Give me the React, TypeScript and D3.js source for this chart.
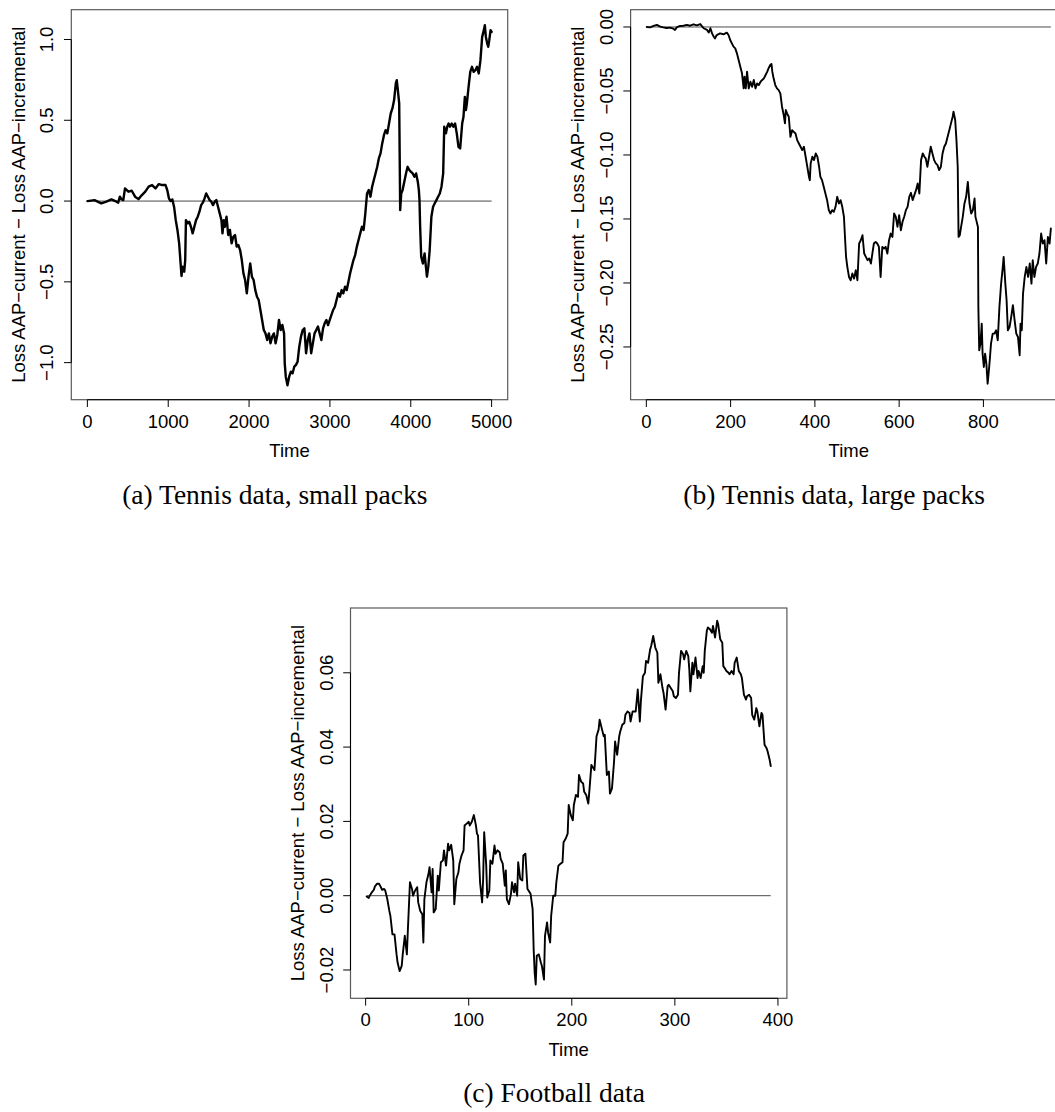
import React from "react";
import * as d3 from "d3";

// (a) Tennis data, small packs
const A_TIME = [1,88,172,235,297,360,381,402,423,444,465,507,549,590,632,674,716,758,800,842,884,925,967,988,1009,1030,1051,1072,1093,1114,1135,1156,1164,1177,1198,1210,1219,1240,1260,1281,1302,1323,1344,1365,1386,1407,1428,1449,1470,1491,1512,1533,1554,1575,1595,1616,1637,1658,1671,1688,1700,1721,1742,1763,1784,1805,1826,1847,1868,1889,1910,1930,1951,1972,1993,2014,2035,2056,2077,2098,2119,2140,2161,2182,2203,2224,2245,2265,2286,2307,2328,2349,2370,2391,2412,2433,2441,2454,2475,2496,2517,2538,2559,2580,2600,2621,2642,2663,2684,2705,2726,2747,2768,2789,2810,2831,2852,2873,2894,2915,2935,2956,2977,2998,3019,3040,3061,3082,3103,3124,3145,3166,3187,3208,3229,3250,3270,3291,3312,3333,3354,3375,3396,3417,3438,3459,3480,3501,3522,3543,3564,3585,3605,3626,3647,3668,3689,3710,3731,3752,3773,3794,3815,3827,3840,3857,3869,3882,3899,3920,3941,3961,3982,4003,4024,4045,4066,4087,4100,4108,4116,4129,4150,4171,4183,4200,4217,4234,4255,4276,4297,4317,4338,4359,4380,4401,4414,4435,4451,4468,4485,4506,4527,4548,4569,4590,4611,4623,4636,4652,4669,4682,4694,4715,4736,4757,4778,4799,4820,4841,4862,4883,4904,4916,4929,4946,4958,4971,4987,5000];
const A_LOSS = [0.000,0.006,-0.014,-0.004,0.010,-0.004,-0.010,0.027,0.010,0.006,0.078,0.058,0.064,0.027,0.012,0.037,0.058,0.089,0.099,0.078,0.105,0.099,0.099,0.068,0.016,0.000,0.010,-0.035,-0.118,-0.179,-0.262,-0.406,-0.464,-0.406,-0.437,-0.365,-0.118,-0.138,-0.128,-0.159,-0.200,-0.159,-0.118,-0.097,-0.066,-0.025,-0.010,0.016,0.047,0.027,0.006,-0.004,-0.025,-0.004,0.006,-0.035,-0.076,-0.118,-0.200,-0.118,-0.159,-0.097,-0.210,-0.179,-0.262,-0.221,-0.210,-0.282,-0.272,-0.303,-0.365,-0.447,-0.489,-0.571,-0.468,-0.386,-0.468,-0.489,-0.551,-0.592,-0.612,-0.674,-0.736,-0.798,-0.819,-0.860,-0.819,-0.880,-0.839,-0.819,-0.880,-0.829,-0.736,-0.798,-0.767,-0.819,-1.004,-1.087,-1.140,-1.087,-1.056,-1.066,-1.025,-1.014,-0.994,-0.901,-0.839,-0.798,-0.788,-0.942,-0.860,-0.819,-0.942,-0.880,-0.819,-0.798,-0.777,-0.819,-0.860,-0.788,-0.757,-0.736,-0.767,-0.736,-0.705,-0.674,-0.654,-0.612,-0.571,-0.592,-0.551,-0.571,-0.530,-0.551,-0.499,-0.447,-0.406,-0.365,-0.334,-0.282,-0.241,-0.200,-0.159,-0.179,-0.076,0.047,0.068,0.027,0.089,0.130,0.171,0.212,0.264,0.295,0.357,0.408,0.439,0.419,0.480,0.542,0.573,0.625,0.728,0.748,0.687,0.604,-0.056,0.047,0.068,0.120,0.171,0.212,0.192,0.181,0.171,0.151,0.171,0.120,0.068,0.006,-0.159,-0.344,-0.386,-0.324,-0.386,-0.468,-0.406,-0.303,-0.097,-0.035,-0.014,0.006,0.027,0.047,0.089,0.171,0.460,0.419,0.460,0.480,0.460,0.480,0.460,0.480,0.419,0.336,0.326,0.398,0.480,0.522,0.645,0.563,0.604,0.707,0.800,0.831,0.800,0.810,0.831,0.790,0.872,1.016,1.058,1.089,1.016,0.975,0.955,0.996,1.058,1.047];
const A_X_LIM = [-199, 5199];
const A_Y_LIM = [-1.2294, 1.1844];
const A_X_TICKS = [0, 1000, 2000, 3000, 4000, 5000];
const A_Y_TICKS = [-1.0, -0.5, 0.0, 0.5, 1.0];

// (b) Tennis data, large packs
const B_TIME = [1,9,17,25,33,40,48,56,64,68,72,80,88,96,104,112,120,128,136,144,148,152,156,160,163,167,175,183,191,195,199,203,207,211,215,219,223,227,231,233,236,239,243,247,251,255,259,263,267,271,275,279,283,287,290,294,297,299,302,306,310,314,318,322,326,329,331,334,338,342,346,350,354,358,362,366,370,374,378,382,386,388,390,394,398,402,406,410,413,417,421,425,429,433,437,441,445,449,453,457,461,465,469,471,474,477,481,485,489,493,497,501,505,509,513,517,521,525,529,533,537,540,544,548,552,556,560,564,568,572,576,580,584,588,592,596,600,604,608,612,616,620,624,628,632,636,640,644,648,652,656,660,663,667,671,675,679,683,687,691,695,699,703,707,711,715,719,723,727,729,733,736,739,741,744,747,751,755,759,763,767,771,775,779,781,783,787,788,790,793,796,798,801,804,807,810,813,815,818,822,826,830,834,838,842,846,848,852,855,858,862,866,870,874,878,882,886,888,891,894,898,902,906,910,914,917,921,925,929,933,937,941,945,949,953,957,960];
const B_LOSS = [0,-0.0003,0.0008,0.0016,0.0003,-0.0003,-0.0008,-0.0005,-0.0013,-0.0023,-0.0003,0.0008,0.0010,0.0016,0.0010,0.0021,0.0013,0.0023,-0.0010,-0.0023,-0.0044,-0.0010,-0.0050,-0.0076,-0.0089,-0.0063,-0.0050,-0.0057,-0.0044,-0.0063,-0.0102,-0.0128,-0.0154,-0.0167,-0.0206,-0.0258,-0.0310,-0.0362,-0.0480,-0.0388,-0.0480,-0.0349,-0.0480,-0.0428,-0.0467,-0.0414,-0.0480,-0.0441,-0.0454,-0.0428,-0.0414,-0.0401,-0.0375,-0.0349,-0.0323,-0.0297,-0.0289,-0.0349,-0.0401,-0.0454,-0.0480,-0.0493,-0.0519,-0.0623,-0.0688,-0.0753,-0.0649,-0.0675,-0.0701,-0.0858,-0.0806,-0.0819,-0.0832,-0.0884,-0.0910,-0.0936,-0.0962,-0.0936,-0.1014,-0.1092,-0.1170,-0.1197,-0.1066,-0.1014,-0.1040,-0.0988,-0.1014,-0.1092,-0.1170,-0.1197,-0.1249,-0.1301,-0.1353,-0.1431,-0.1457,-0.1431,-0.1444,-0.1405,-0.1327,-0.1379,-0.1353,-0.1405,-0.1483,-0.1614,-0.1796,-0.1874,-0.1953,-0.1979,-0.1926,-0.1966,-0.1900,-0.1979,-0.1692,-0.1666,-0.1627,-0.1770,-0.1796,-0.1822,-0.1809,-0.1848,-0.1757,-0.1692,-0.1679,-0.1692,-0.1718,-0.1953,-0.1718,-0.1731,-0.1718,-0.1770,-0.1666,-0.1614,-0.1640,-0.1457,-0.1483,-0.1562,-0.1470,-0.1588,-0.1522,-0.1483,-0.1431,-0.1405,-0.1327,-0.1296,-0.1353,-0.1314,-0.1275,-0.1223,-0.1301,-0.1040,-0.0988,-0.1014,-0.1027,-0.1092,-0.1014,-0.0936,-0.0988,-0.1040,-0.1066,-0.1079,-0.1118,-0.1092,-0.0988,-0.0936,-0.0910,-0.0858,-0.0806,-0.0753,-0.0701,-0.0662,-0.0727,-0.0884,-0.1092,-0.1640,-0.1627,-0.1562,-0.1483,-0.1379,-0.1327,-0.1210,-0.1379,-0.1457,-0.1431,-0.1340,-0.1483,-0.1509,-0.1562,-0.2187,-0.2526,-0.2474,-0.2318,-0.2552,-0.2656,-0.2552,-0.2630,-0.2787,-0.2682,-0.2604,-0.2474,-0.2396,-0.2396,-0.2370,-0.2448,-0.2187,-0.2005,-0.1874,-0.1796,-0.2005,-0.2135,-0.2370,-0.2344,-0.2265,-0.2174,-0.2291,-0.2396,-0.2422,-0.2565,-0.2318,-0.2370,-0.2083,-0.1953,-0.1874,-0.1953,-0.1848,-0.2005,-0.1822,-0.1953,-0.1874,-0.1848,-0.1770,-0.1614,-0.1692,-0.1666,-0.1848,-0.1640,-0.1692,-0.1575];
const B_X_LIM = [-37.36, 998.36];
const B_Y_LIM = [-0.2912, 0.0135];
const B_X_TICKS = [0, 200, 400, 600, 800];
const B_Y_TICKS = [-0.25, -0.2, -0.15, -0.1, -0.05, 0];

// (c) Football data
const C_TIME = [1,3,4,6,8,9,11,13,14,16,18,19,21,23,24,26,28,30,31,33,35,36,38,40,41,43,45,46,48,50,51,53,55,56,57,59,61,62,64,65,66,68,70,71,73,75,76,78,80,81,83,85,86,88,90,91,93,95,96,98,100,101,103,105,107,108,109,111,113,114,115,117,118,120,121,123,125,126,128,130,131,133,135,136,137,139,141,142,144,145,147,148,150,152,153,155,157,158,160,162,163,164,165,166,168,170,171,173,174,176,177,179,180,182,184,185,187,189,191,192,194,196,197,199,201,202,204,206,207,209,211,212,214,216,217,219,221,222,224,226,227,229,231,232,234,236,237,239,241,242,244,246,247,249,251,252,254,256,257,259,261,262,264,266,267,269,271,272,274,276,277,279,281,283,284,286,288,289,291,293,294,296,298,299,301,303,304,306,308,309,311,313,314,315,317,318,320,322,323,325,327,328,329,331,332,334,336,337,339,341,342,344,346,347,348,350,352,353,355,357,358,360,362,364,365,367,369,370,372,374,375,377,379,380,382,384,385,387,389,390,392,393];
const C_LOSS = [-0.0002,-0.0006,0.0000,0.0009,0.0016,0.0025,0.0032,0.0032,0.0027,0.0016,0.0018,0.0014,-0.0009,-0.0041,-0.0054,-0.0104,-0.0104,-0.0158,-0.0180,-0.0203,-0.0189,-0.0158,-0.0108,-0.0158,-0.0090,0.0036,0.0018,0.0000,0.0014,0.0023,-0.0018,-0.0041,-0.0050,-0.0126,-0.0009,0.0036,0.0059,0.0077,0.0009,0.0072,-0.0045,-0.0036,0.0054,0.0014,0.0090,0.0095,0.0122,0.0081,0.0140,0.0122,0.0137,0.0095,-0.0023,0.0045,0.0063,0.0086,0.0108,0.0122,0.0189,0.0194,0.0199,0.0189,0.0199,0.0217,0.0189,0.0167,0.0162,0.0036,-0.0018,0.0045,0.0171,0.0081,-0.0005,0.0014,0.0095,0.0086,0.0135,0.0113,0.0122,0.0117,0.0099,0.0086,0.0027,0.0068,-0.0009,-0.0023,0.0005,0.0036,0.0009,0.0032,0.0000,0.0090,0.0045,0.0041,0.0108,0.0113,0.0018,0.0014,0.0005,-0.0036,-0.0144,-0.0208,-0.0239,-0.0162,-0.0158,-0.0180,-0.0189,-0.0226,-0.0108,-0.0072,-0.0099,-0.0126,-0.0054,0.0000,0.0000,0.0036,0.0081,0.0086,0.0090,0.0144,0.0153,0.0167,0.0244,0.0217,0.0203,0.0244,0.0271,0.0266,0.0325,0.0307,0.0302,0.0280,0.0271,0.0248,0.0280,0.0352,0.0343,0.0338,0.0429,0.0447,0.0474,0.0451,0.0429,0.0433,0.0325,0.0334,0.0275,0.0289,0.0361,0.0415,0.0379,0.0429,0.0442,0.0460,0.0465,0.0487,0.0496,0.0492,0.0469,0.0496,0.0496,0.0496,0.0555,0.0469,0.0523,0.0591,0.0600,0.0632,0.0627,0.0663,0.0672,0.0699,0.0668,0.0654,0.0573,0.0596,0.0559,0.0546,0.0501,0.0564,0.0568,0.0559,0.0550,0.0537,0.0532,0.0541,0.0600,0.0659,0.0650,0.0636,0.0659,0.0645,0.0609,0.0550,0.0627,0.0596,0.0641,0.0586,0.0605,0.0586,0.0618,0.0600,0.0659,0.0713,0.0722,0.0717,0.0708,0.0726,0.0695,0.0740,0.0731,0.0690,0.0681,0.0618,0.0614,0.0605,0.0600,0.0596,0.0605,0.0596,0.0627,0.0641,0.0605,0.0596,0.0586,0.0541,0.0528,0.0537,0.0541,0.0532,0.0487,0.0474,0.0505,0.0496,0.0456,0.0492,0.0487,0.0406,0.0397,0.0388,0.0365,0.0349];
const C_X_LIM = [-14.68, 408.68];
const C_Y_LIM = [-0.02762, 0.07744];
const C_X_TICKS = [0, 100, 200, 300, 400];
const C_Y_TICKS = [-0.02, 0, 0.02, 0.04, 0.06];

const X_LABEL = "Time";
const Y_LABEL = "Loss AAP\u2212current \u2212 Loss AAP\u2212incremental";
const CAPTIONS = [
  "(a) Tennis data, small packs",
  "(b) Tennis data, large packs",
  "(c) Football data",
];

const SANS = "'Liberation Sans', Arial, Helvetica, sans-serif";
const SERIF = "'Liberation Serif', 'Times New Roman', serif";
const FS = 18.5;

type Box = { left: number; top: number; width: number; height: number };

function Panel(props: {
  time: number[];
  loss: number[];
  xLim: number[];
  yLim: number[];
  xTicks: number[];
  yTicks: number[];
  yFmt: string;
  box: Box;
  caption: string;
  captionY: number;
  lineWidth: number;
}) {
  const { time, loss, xLim, yLim, xTicks, yTicks, yFmt, box, caption, captionY, lineWidth } = props;
  const bottom = box.top + box.height;
  const right = box.left + box.width;
  const x = d3.scaleLinear().domain(xLim).range([box.left, right]);
  const y = d3.scaleLinear().domain(yLim).range([bottom, box.top]);
  const n = Math.min(time.length, loss.length);
  const pts: [number, number][] = d3.range(n).map((i) => [time[i], loss[i]]);
  const path = d3
    .line<[number, number]>()
    .x((d) => x(d[0]))
    .y((d) => y(d[1]))(pts) as string;
  const fmt = d3.format(yFmt);
  const tickLen = 7.3;

  return (
    <g>
      {/* zero reference line across the observed range */}
      <line
        x1={x(time[0])}
        x2={x(time[n - 1])}
        y1={y(0)}
        y2={y(0)}
        stroke="#4a4a4a"
        strokeWidth={1}
      />
      <path d={path} fill="none" stroke="#000" strokeWidth={lineWidth} strokeLinejoin="round" strokeLinecap="round" />
      <rect x={box.left} y={box.top} width={box.width} height={box.height} fill="none" stroke="#5a5a5a" strokeWidth={1.2} />

      {/* x axis */}
      <line x1={x(xTicks[0])} x2={x(xTicks[xTicks.length - 1])} y1={bottom} y2={bottom} stroke="#000" strokeWidth={1} />
      {xTicks.map((t) => (
        <g key={"x" + t}>
          <line x1={x(t)} x2={x(t)} y1={bottom} y2={bottom + tickLen} stroke="#000" strokeWidth={1} />
          <text x={x(t)} y={bottom + 27.8} textAnchor="middle" fontFamily={SANS} fontSize={FS}>
            {String(t)}
          </text>
        </g>
      ))}
      <text x={(box.left + right) / 2} y={bottom + 57.5} textAnchor="middle" fontFamily={SANS} fontSize={FS}>
        {X_LABEL}
      </text>

      {/* y axis */}
      <line x1={box.left} x2={box.left} y1={y(yTicks[0])} y2={y(yTicks[yTicks.length - 1])} stroke="#000" strokeWidth={1} />
      {yTicks.map((t) => (
        <g key={"y" + t}>
          <line x1={box.left - tickLen} x2={box.left} y1={y(t)} y2={y(t)} stroke="#000" strokeWidth={1} />
          <text
            transform={`translate(${box.left - 17.9},${y(t)}) rotate(-90)`}
            textAnchor="middle"
            fontFamily={SANS}
            fontSize={FS}
          >
            {fmt(t)}
          </text>
        </g>
      ))}
      <text
        transform={`translate(${box.left - 46.5},${box.top + box.height / 2}) rotate(-90)`}
        textAnchor="middle"
        fontFamily={SANS}
        fontSize={FS}
      >
        {Y_LABEL}
      </text>

      <text x={box.left + 203.5} y={captionY} textAnchor="middle" fontFamily={SERIF} fontSize={27.5}>
        {caption}
      </text>
    </g>
  );
}

export default function App() {
  return (
    <svg
      width={1055}
      height={1112}
      viewBox="0 0 1055 1112"
      style={{ position: "absolute", left: 0, top: 0, background: "#fff" }}
    >
      <rect x={0} y={0} width={1055} height={1112} fill="#fff" />
      <Panel
        time={A_TIME}
        loss={A_LOSS}
        xLim={A_X_LIM}
        yLim={A_Y_LIM}
        xTicks={A_X_TICKS}
        yTicks={A_Y_TICKS}
        yFmt=".1f"
        box={{ left: 71.3, top: 9.7, width: 436.4, height: 390 }}
        caption={CAPTIONS[0]}
        captionY={504}
        lineWidth={2.4}
      />
      <Panel
        time={B_TIME}
        loss={B_LOSS}
        xLim={B_X_LIM}
        yLim={B_Y_LIM}
        xTicks={B_X_TICKS}
        yTicks={B_Y_TICKS}
        yFmt=".2f"
        box={{ left: 630.6, top: 9.7, width: 436.4, height: 390 }}
        caption={CAPTIONS[1]}
        captionY={504}
        lineWidth={1.9}
      />
      <Panel
        time={C_TIME}
        loss={C_LOSS}
        xLim={C_X_LIM}
        yLim={C_Y_LIM}
        xTicks={C_X_TICKS}
        yTicks={C_Y_TICKS}
        yFmt=".2f"
        box={{ left: 350.5, top: 608, width: 436.4, height: 390.3 }}
        caption={CAPTIONS[2]}
        captionY={1102}
        lineWidth={1.9}
      />
    </svg>
  );
}
